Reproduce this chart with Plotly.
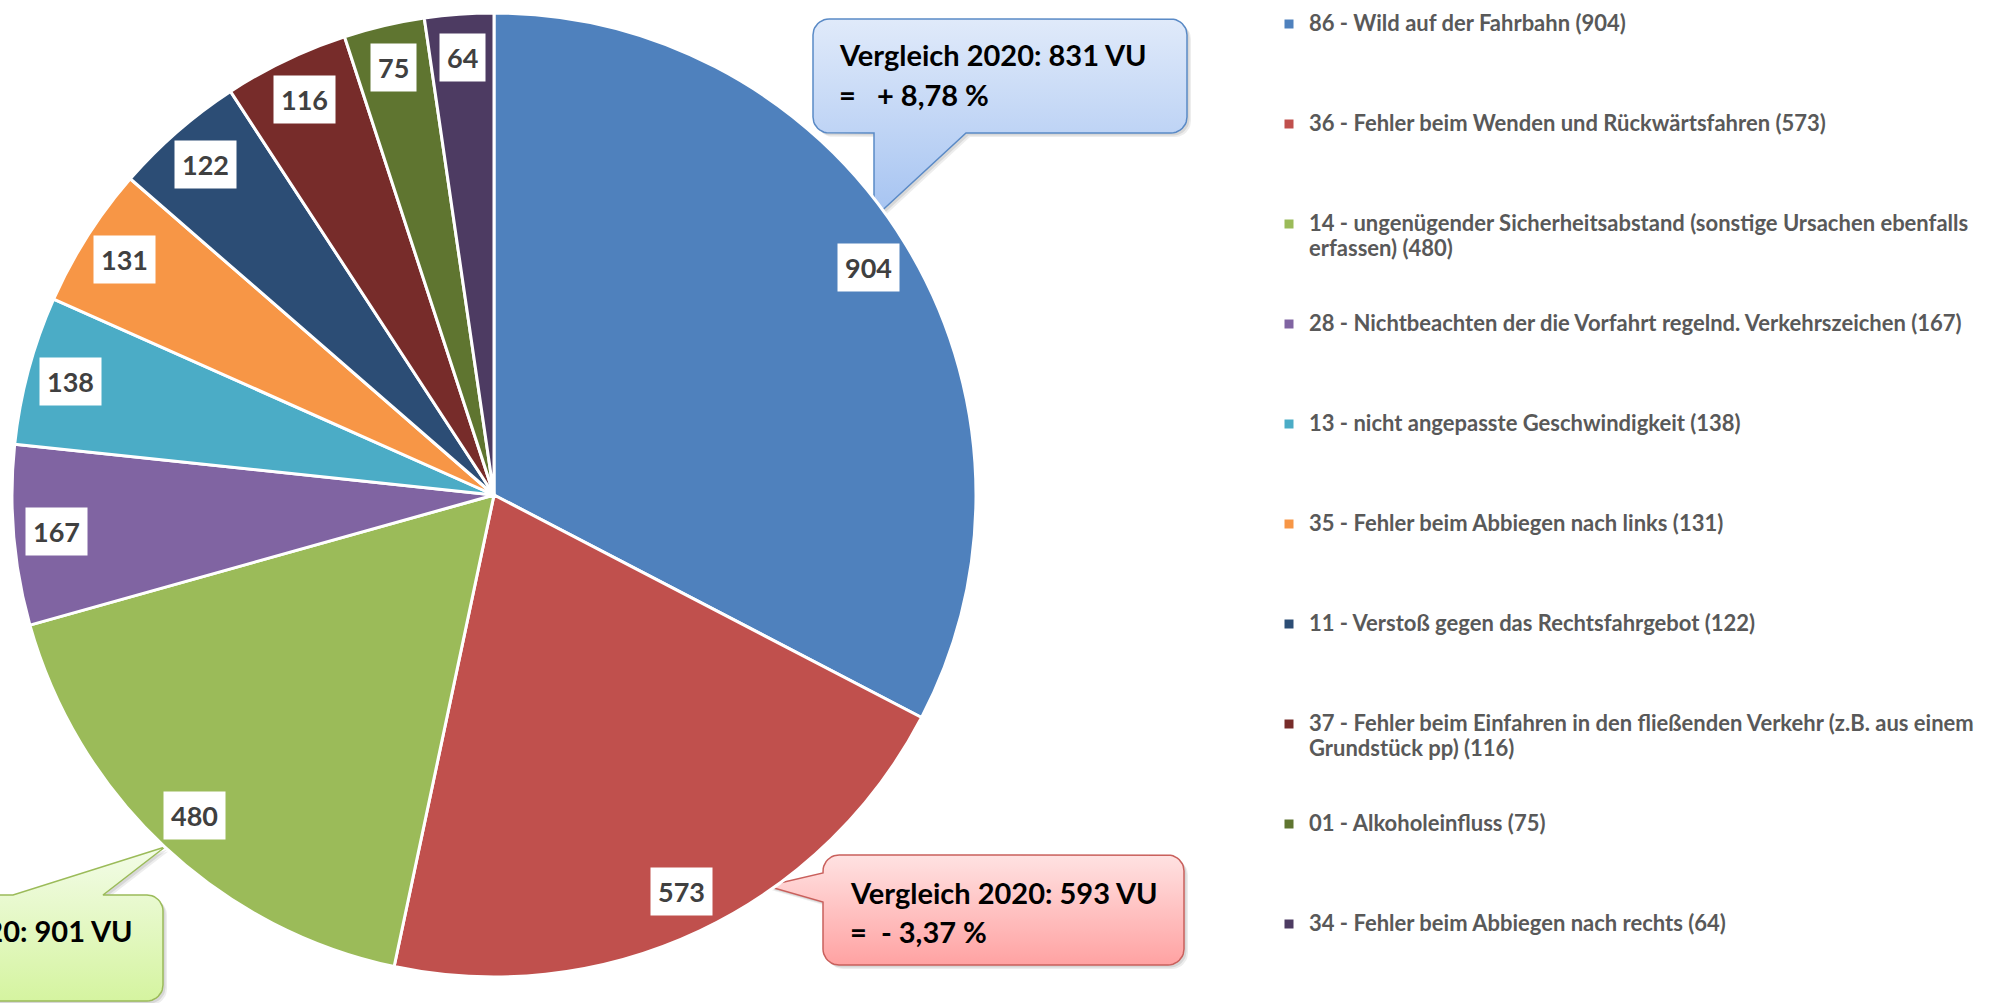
import math
import textwrap
import plotly.graph_objects as go

W, H = 1995, 1003

# ---------------- data ----------------
codes = ["86", "36", "14", "28", "13", "35", "11", "37", "01", "34"]
names = [
    "Wild auf der Fahrbahn",
    "Fehler beim Wenden und Rückwärtsfahren",
    "ungenügender Sicherheitsabstand (sonstige Ursachen ebenfalls erfassen)",
    "Nichtbeachten der die Vorfahrt regelnd. Verkehrszeichen",
    "nicht angepasste Geschwindigkeit",
    "Fehler beim Abbiegen nach links",
    "Verstoß gegen das Rechtsfahrgebot",
    "Fehler beim Einfahren in den fließenden Verkehr (z.B. aus einem Grundstück pp)",
    "Alkoholeinfluss",
    "Fehler beim Abbiegen nach rechts",
]
values = [904, 573, 480, 167, 138, 131, 122, 116, 75, 64]
colors = ["#4F81BD", "#C0504D", "#9BBB59", "#8064A2", "#4BACC6",
          "#F79646", "#2C4D75", "#772C2A", "#5F7530", "#4D3B62"]

compare_codes = ["86", "36", "14"]
compare_2020 = [831, 593, 901]

# ---------------- geometry / style ----------------
CX, CY, R = 494, 495, 482
FONT = "Lato"
LEG_LINE_FONT = 18.65
LEG_TEXT_SIZE = 22

# legend labels: wrapped, padded to equal line counts for uniform spacing
legend_labels = []
for i, (c, n, v) in enumerate(zip(codes, names, values)):
    full = f"{c} - {n} ({v})"
    lines = textwrap.wrap(full, 68, break_on_hyphens=False)
    lines = [f'<span style="font-size:{LEG_TEXT_SIZE}px">{ln}</span>' for ln in lines]
    target = 4 if i < len(codes) - 1 else 2
    while len(lines) < target:
        lines.append("\u00a0")
    legend_labels.append("<br>".join(lines))

fig = go.Figure()

# ---------------- callouts (decoration) ----------------
def callout_path(x0, y0, x1, y1, r, side, a, b, tip, n=10):
    pts = []

    def arc(cx, cy, t0, t1):
        for k in range(n + 1):
            t = math.radians(t0 + (t1 - t0) * k / n)
            pts.append((cx + r * math.cos(t), cy + r * math.sin(t)))

    pts.append((x0 + r, y0))
    if side == "top":
        pts.extend([(a, y0), tip, (b, y0)])
    arc(x1 - r, y0 + r, -90, 0)
    arc(x1 - r, y1 - r, 0, 90)
    if side == "bottom":
        pts.extend([(b, y1), tip, (a, y1)])
    arc(x0 + r, y1 - r, 90, 180)
    if side == "left":
        pts.extend([(x0, b), tip, (x0, a)])
    arc(x0 + r, y0 + r, 180, 270)
    pts.append(pts[0])
    return [p[0] for p in pts], [p[1] for p in pts]


callout_style = {
    "86": dict(box=(813, 19, 1187, 133), side="bottom", a=874, b=966, tip=(874, 218),
               top="#E0EAFA", bot="#A5C3F1", line="#5A8AC6",
               tx=837, ty=(54, 94), anchor="left"),
    "36": dict(box=(823, 855, 1184, 965), side="left", a=873, b=902, tip=(767, 886),
               top="#FFE2E2", bot="#FFA2A2", line="#C9605C",
               tx=848, ty=(892, 931), anchor="left"),
    "14": dict(box=(-195, 895, 163, 1001), side="top", a=13, b=103, tip=(165, 847),
               top="#F3FCE8", bot="#D5F4A0", line="#9BBB59",
               tx=135, ty=(930, 970), anchor="right"),
}

annotations = []
for code, prev in zip(compare_codes, compare_2020):
    st = callout_style[code]
    cur = values[codes.index(code)]
    x0, y0, x1, y1 = st["box"]
    xs, ys = callout_path(x0, y0, x1, y1, 16, st["side"], st["a"], st["b"], st["tip"])
    ytop = min(ys)
    ybot = max(ys)
    # soft shadow
    for off, alpha in ((4, 0.07), (2.5, 0.09)):
        fig.add_trace(go.Scatter(
            x=[v + off for v in xs], y=[v + off for v in ys], mode="lines",
            fill="toself", fillcolor=f"rgba(0,0,0,{alpha})",
            line=dict(width=0), hoverinfo="skip", showlegend=False))
    fig.add_trace(go.Scatter(
        x=xs, y=ys, mode="lines", fill="toself",
        fillgradient=dict(type="vertical", start=ytop, stop=ybot,
                          colorscale=[[0, st["top"]], [1, st["bot"]]]),
        line=dict(color=st["line"], width=1.5),
        hoverinfo="skip", showlegend=False))

    pct = (cur - prev) / prev * 100
    pct_txt = f"{abs(pct):.2f}".replace(".", ",")
    line1 = f"Vergleich 2020: {prev} VU"
    line2 = f"=   + {pct_txt} %" if pct >= 0 else f"=  - {pct_txt} %"
    cfont = dict(family=FONT, size=29, color="#000000", weight="bold")
    if st["anchor"] == "left":
        annotations.append(dict(x=st["tx"], y=st["ty"][0], xref="x", yref="y", text=line1,
                                showarrow=False, xanchor="left", yanchor="middle", font=cfont))
        annotations.append(dict(x=st["tx"], y=st["ty"][1], xref="x", yref="y", text=line2,
                                showarrow=False, xanchor="left", yanchor="middle", font=cfont))
    else:
        annotations.append(dict(x=st["tx"], y=st["ty"][0], xref="x", yref="y", text=line1,
                                showarrow=False, xanchor="right", yanchor="middle", font=cfont))

# ---------------- pie ----------------
fig.add_trace(go.Pie(
    labels=legend_labels, values=values, sort=False, direction="clockwise", rotation=0,
    marker=dict(colors=colors, line=dict(color="white", width=3)),
    textinfo="none", hoverinfo="value",
    domain=dict(x=[(CX - R) / W, (CX + R) / W], y=[1 - (CY + R) / H, 1 - (CY - R) / H]),
    showlegend=True,
))

# ---------------- data labels ----------------
total = sum(values)
cum = 0
for v in values:
    th = (cum + v / 2) / total * 2 * math.pi
    cum += v
    rl = 0.91 * R
    annotations.append(dict(
        x=CX + rl * math.sin(th), y=CY - rl * math.cos(th), xref="x", yref="y",
        text=str(v), showarrow=False, bgcolor="white", borderpad=7,
        font=dict(family=FONT, size=27, color="#404040", weight="bold")))

fig.update_layout(
    width=W, height=H, margin=dict(l=0, r=0, t=0, b=0),
    paper_bgcolor="white", plot_bgcolor="rgba(0,0,0,0)",
    xaxis=dict(range=[0, W], visible=False, fixedrange=True, domain=[0, 1]),
    yaxis=dict(range=[H, 0], visible=False, fixedrange=True, domain=[0, 1]),
    showlegend=True,
    legend=dict(x=1269 / W, xanchor="left", y=1 - 5.5 / H, yanchor="top", valign="top",
                bgcolor="rgba(0,0,0,0)", borderwidth=0,
                font=dict(family=FONT, size=LEG_LINE_FONT, color="#595959", weight="bold")),
    annotations=annotations,
)

fig.write_html(
    "out.html",
    config={"displayModeBar": False},
    post_script="document.body.style.margin='0';document.body.style.overflow='hidden';",
)
